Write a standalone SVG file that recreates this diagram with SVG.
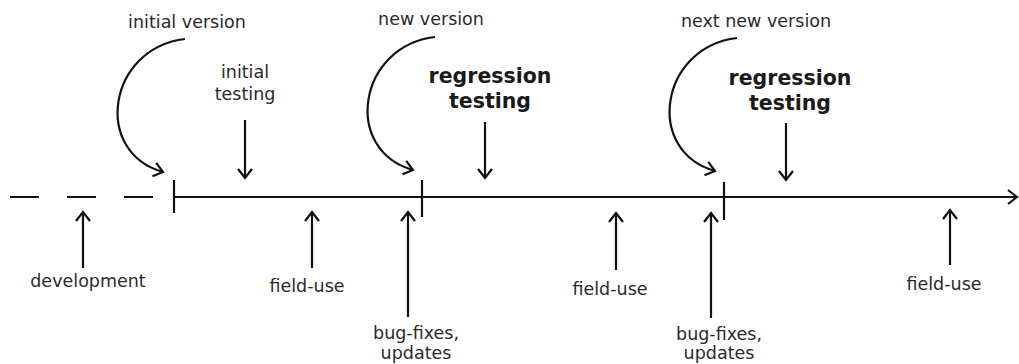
<svg xmlns="http://www.w3.org/2000/svg" width="1019" height="364" viewBox="0 0 1019 364">
<defs>
<marker id="ah" markerUnits="userSpaceOnUse" markerWidth="16" markerHeight="16" viewBox="0 0 16 16" refX="14" refY="8" orient="auto">
<path d="M5,1 L14,8 L5,15" fill="none" stroke="#111" stroke-width="2.2"/>
</marker>
</defs>
<style>
.ln{fill:none;stroke:#111;stroke-width:2.2}
.ar{fill:none;stroke:#111;stroke-width:2.2;marker-end:url(#ah)}
.t{font-family:"DejaVu Sans",sans-serif;font-size:17.5px;fill:#2a2a2a;text-anchor:middle}
.b{font-family:"DejaVu Sans",sans-serif;font-size:20.5px;font-weight:bold;fill:#1a1a1a;text-anchor:middle}
</style>
<g id="connectors">
<line class="ln" x1="10" y1="197" x2="155" y2="197" stroke-dasharray="29,28"/>
<line class="ar" x1="174" y1="197" x2="1017" y2="197"/>
<line class="ln" x1="174" y1="180" x2="174" y2="213"/>
<line class="ln" x1="422" y1="180" x2="422" y2="217"/>
<line class="ln" x1="724" y1="182" x2="724" y2="220"/>
<path class="ar" d="M185,39 C108,48 92,152 163,172"/>
<path class="ar" d="M435,37 C358,46 342,150 413,170"/>
<path class="ar" d="M737,38 C660,47 644,151 715,171"/>
<line class="ar" x1="245" y1="120" x2="245" y2="178"/>
<line class="ar" x1="485" y1="122" x2="485" y2="178"/>
<line class="ar" x1="786" y1="123" x2="786" y2="180"/>
<line class="ar" x1="83" y1="268" x2="83" y2="212"/>
<line class="ar" x1="312" y1="268" x2="312" y2="212"/>
<line class="ar" x1="408" y1="317" x2="408" y2="212"/>
<line class="ar" x1="616" y1="270" x2="616" y2="213"/>
<line class="ar" x1="711" y1="318" x2="711" y2="213"/>
<line class="ar" x1="950" y1="265" x2="950" y2="210"/>
</g>
<g id="initial-version"><text class="t" x="187" y="28">initial version</text></g>
<g id="initial-testing"><text class="t" x="245" y="78">initial</text><text class="t" x="245" y="100">testing</text></g>
<g id="new-version"><text class="t" x="431" y="25">new version</text></g>
<g id="regression-testing-1"><text class="b" x="490" y="83">regression</text><text class="b" x="490" y="108">testing</text></g>
<g id="next-new-version"><text class="t" x="756" y="27">next new version</text></g>
<g id="regression-testing-2"><text class="b" x="790" y="85">regression</text><text class="b" x="790" y="110">testing</text></g>
<g id="development"><text class="t" x="88" y="287">development</text></g>
<g id="field-use-1"><text class="t" x="307" y="292">field-use</text></g>
<g id="bug-fixes-1"><text class="t" x="416" y="339">bug-fixes,</text><text class="t" x="416" y="359">updates</text></g>
<g id="field-use-2"><text class="t" x="610" y="295">field-use</text></g>
<g id="bug-fixes-2"><text class="t" x="719" y="340">bug-fixes,</text><text class="t" x="719" y="359">updates</text></g>
<g id="field-use-3"><text class="t" x="944" y="290">field-use</text></g>
</svg>
